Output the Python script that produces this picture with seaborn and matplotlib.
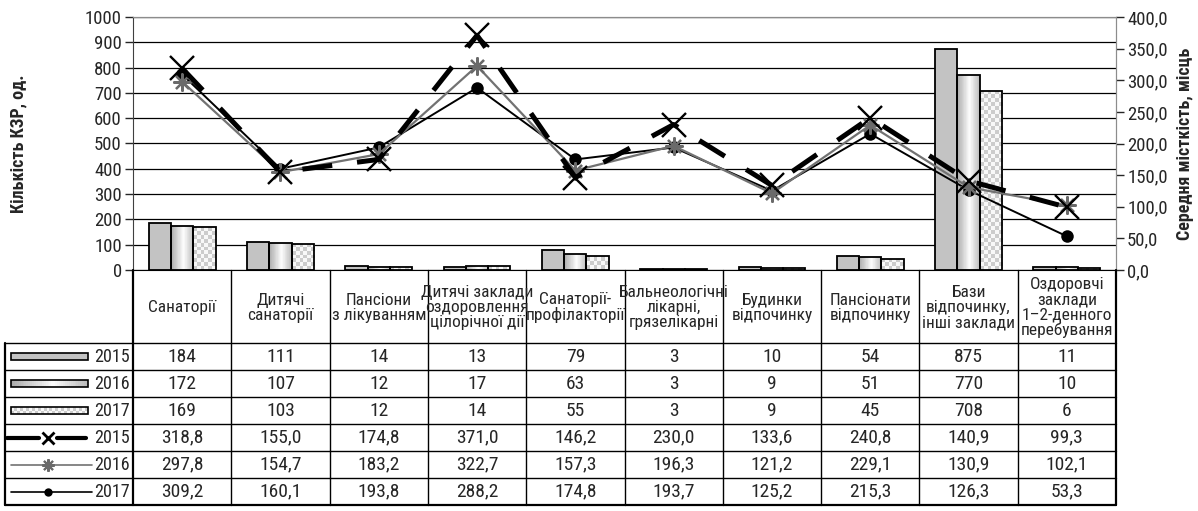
import numpy as np
import pandas as pd
import seaborn as sns
import matplotlib.pyplot as plt
from matplotlib.patches import Rectangle
from matplotlib.ticker import FuncFormatter, MultipleLocator

# Дані (категорії закладів, кількість КЗР і середня місткість)
categories = ['Санаторії', 'Дитячі\nсанаторії', 'Пансіони\nз лікуванням',
              'Дитячі заклади\nоздоровлення\nцілорічної дії', 'Санаторії-\nпрофілакторії',
              'Бальнеологічні\nлікарні,\nгрязелікарні', 'Будинки\nвідпочинку',
              'Пансіонати\nвідпочинку', 'Бази\nвідпочинку,\nінші заклади',
              'Оздоровчі\nзаклади\n1–2-денного\nперебування']
years = ['2015', '2016', '2017']
count_2015 = [184, 111, 14, 13, 79, 3, 10, 54, 875, 11]
count_2016 = [172, 107, 12, 17, 63, 3, 9, 51, 770, 10]
count_2017 = [169, 103, 12, 14, 55, 3, 9, 45, 708, 6]
cap_2015 = [318.8, 155.0, 174.8, 371.0, 146.2, 230.0, 133.6, 240.8, 140.9, 99.3]
cap_2016 = [297.8, 154.7, 183.2, 322.7, 157.3, 196.3, 121.2, 229.1, 130.9, 102.1]
cap_2017 = [309.2, 160.1, 193.8, 288.2, 174.8, 193.7, 125.2, 215.3, 126.3, 53.3]

sns.set_style('white')
plt.rcParams['font.family'] = ['Roboto Condensed', 'Liberation Sans Narrow',
                               'Open Sans Condensed', 'Liberation Sans', 'DejaVu Sans']

W, H = 1198, 511
fig = plt.figure(figsize=(W / 100, H / 100), dpi=100)


def px_axes(x0, y0, x1, y1):
    return fig.add_axes([x0 / W, 1 - y1 / H, (x1 - x0) / W, (y1 - y0) / H])


L, R, T, B = 133, 1116, 17, 270
ax = px_axes(L, T, R, B)

df = pd.DataFrame({'cat': categories * 3,
                   'year': np.repeat(years, len(categories)),
                   'n': count_2015 + count_2016 + count_2017})
sns.barplot(data=df, x='cat', y='n', hue='year', order=categories, hue_order=years,
            palette=['#c3c3c3', '#ffffff', '#ffffff'], saturation=1, width=0.68,
            edgecolor='black', linewidth=1.3, legend=False, ax=ax, zorder=2)


def gradient_img():
    t = np.linspace(0, 1, 40)
    v = 0.99 - 0.32 * np.abs(t - 0.55) / 0.55
    return v[None, :]


def checker_img(w_px, h_px, cell=4.0):
    nx = max(1, int(round(w_px / cell)))
    ny = max(1, int(round(h_px / cell)))
    i, j = np.meshgrid(np.arange(nx), np.arange(ny))
    return np.where((i + j) % 2 == 0, 0.80, 0.97)


def fill_patch(axis, patch, img):
    x, y = patch.get_x(), patch.get_y()
    w, h = patch.get_width(), patch.get_height()
    im = axis.imshow(img, extent=[x, x + w, y, y + h], aspect='auto', cmap='gray',
                     vmin=0, vmax=1, interpolation='nearest', zorder=1.9)
    im.set_clip_path(patch)
    patch.set_facecolor('none')


ax.set_xlim(-0.5, len(categories) - 0.5)
ax.set_ylim(0, 1000)
px_per_x = (R - L) / len(categories)
px_per_y = (B - T) / 1000
for bar in ax.containers[1]:
    fill_patch(ax, bar, gradient_img())
for bar in ax.containers[2]:
    fill_patch(ax, bar, checker_img(bar.get_width() * px_per_x, bar.get_height() * px_per_y))
ax.set_xlim(-0.5, len(categories) - 0.5)
ax.set_ylim(0, 1000)

ax.set_axisbelow(True)
ax.yaxis.set_major_locator(MultipleLocator(100))
ax.yaxis.grid(True, color='black', lw=0.9)
ax.set_xticks([])
ax.set_xlabel('')
ax.set_ylabel('Кількість КЗР, од.', fontsize=13, fontweight='bold')
ax.yaxis.set_label_coords((27 - L) / (R - L), 0.5)
ax.tick_params(axis='y', left=True, length=6, width=1, labelsize=13.5, pad=2)
for s in ['top', 'right']:
    ax.spines[s].set_color('#8c8c8c')
ax.spines['left'].set_color('#404040')
ax.spines['bottom'].set_color('black')

# Лінії середньої місткості (права вісь)
ax2 = ax.twinx()
idx = np.arange(len(categories))
sns.lineplot(x=idx, y=cap_2017, ax=ax2, color='black', lw=1.4, marker='o', ms=9,
             mew=0, legend=False)
sns.lineplot(x=idx, y=cap_2016, ax=ax2, color='#727272', lw=1.6, marker=(8, 2, 0),
             ms=13, mew=1.6, mec='#6a6a6a', legend=False)
sns.lineplot(x=idx, y=cap_2015, ax=ax2, color='black', lw=3.6, linestyle=(0, (6, 5)),
             marker='x', ms=17, mew=1.7, mec='black', legend=False)
ax2.set_ylim(0, 400)
ax2.set_xlim(-0.5, len(categories) - 0.5)
ax2.yaxis.set_major_locator(MultipleLocator(50))
ax2.yaxis.set_major_formatter(FuncFormatter(lambda v, p: f'{v:.1f}'.replace('.', ',')))
ax2.tick_params(axis='y', right=True, length=6, width=1, labelsize=13.5, pad=2)
ax2.set_ylabel('Середня місткість, місць', fontsize=13, fontweight='bold')
ax2.yaxis.set_label_coords((1176 - L) / (R - L), 0.5)
for s in ['top', 'right']:
    ax2.spines[s].set_color('#8c8c8c')
ax2.spines['left'].set_visible(False)
ax2.spines['bottom'].set_visible(False)

# Таблиця даних
hdr, rowh = 73, 27
rows = [count_2015, count_2016, count_2017, cap_2015, cap_2016, cap_2017]
n_rows = len(rows)
tab_h = hdr + rowh * n_rows
tab = px_axes(L, B, R, B + tab_h)
tab.set_xlim(-0.5, len(categories) - 0.5)
tab.set_ylim(tab_h, 0)
tab.axis('off')
for i, c in enumerate(categories):
    tab.text(i, hdr / 2 + 1, c, ha='center', va='center', fontsize=12.5, linespacing=1.0)
for r, vals in enumerate(rows):
    y = hdr + rowh * (r + 0.5)
    for i, v in enumerate(vals):
        s = str(v) if r < 3 else f'{v:.1f}'.replace('.', ',')
        tab.text(i, y, s, ha='center', va='center', fontsize=14)
for k in range(len(categories) + 1):
    lw = 1.6 if k in (0, len(categories)) else 1.0
    tab.plot([k - 0.5, k - 0.5], [0, tab_h], color='black', lw=lw, clip_on=False)
for k in range(n_rows + 1):
    lw = 1.6 if k == n_rows else 1.0
    tab.plot([-0.5, len(categories) - 0.5], [hdr + rowh * k] * 2, color='black', lw=lw,
             clip_on=False)

# Легенда в першому стовпці таблиці
lab = px_axes(5, B + hdr, L, B + tab_h)
lab.set_xlim(5, L)
lab.set_ylim(rowh * n_rows, 0)
lab.axis('off')
lab.plot([5, 5], [0, rowh * n_rows], color='black', lw=1.6, clip_on=False)
for k in range(n_rows + 1):
    lab.plot([5, L], [rowh * k] * 2, color='black', lw=1.6 if k == n_rows else 1.0,
             clip_on=False)
labels = years + years
for r, yr in enumerate(labels):
    y = rowh * (r + 0.5)
    lab.text(L - 3, y, yr, ha='right', va='center', fontsize=13)
key0 = Rectangle((11, rowh * 0.5 - 3.5), 77, 7, facecolor='#c3c3c3', edgecolor='black',
                 lw=1.2)
lab.add_patch(key0)
key1 = Rectangle((11, rowh * 1.5 - 3.5), 77, 7, facecolor='white', edgecolor='black',
                 lw=1.2, zorder=2)
lab.add_patch(key1)
fill_patch(lab, key1, gradient_img())
key2 = Rectangle((11, rowh * 2.5 - 3.5), 77, 7, facecolor='white', edgecolor='black',
                 lw=1.2, zorder=2)
lab.add_patch(key2)
fill_patch(lab, key2, checker_img(77, 7, cell=3))
y = rowh * 3.5
lab.plot([7, 39], [y, y], color='black', lw=3)
lab.plot([57, 86], [y, y], color='black', lw=3)
lab.plot([48], [y], marker='x', ms=8, mew=2, color='black')
y = rowh * 4.5
lab.plot([11, 92], [y, y], color='#727272', lw=1.2)
lab.plot([48], [y], marker=(8, 2, 0), ms=9, mew=1.5, color='#6a6a6a')
y = rowh * 5.5
lab.plot([11, 92], [y, y], color='black', lw=1.2)
lab.plot([48], [y], marker='o', ms=6, mew=0, color='black')
lab.set_xlim(5, L)
lab.set_ylim(rowh * n_rows, 0)

fig.savefig('out.png', dpi=100)
